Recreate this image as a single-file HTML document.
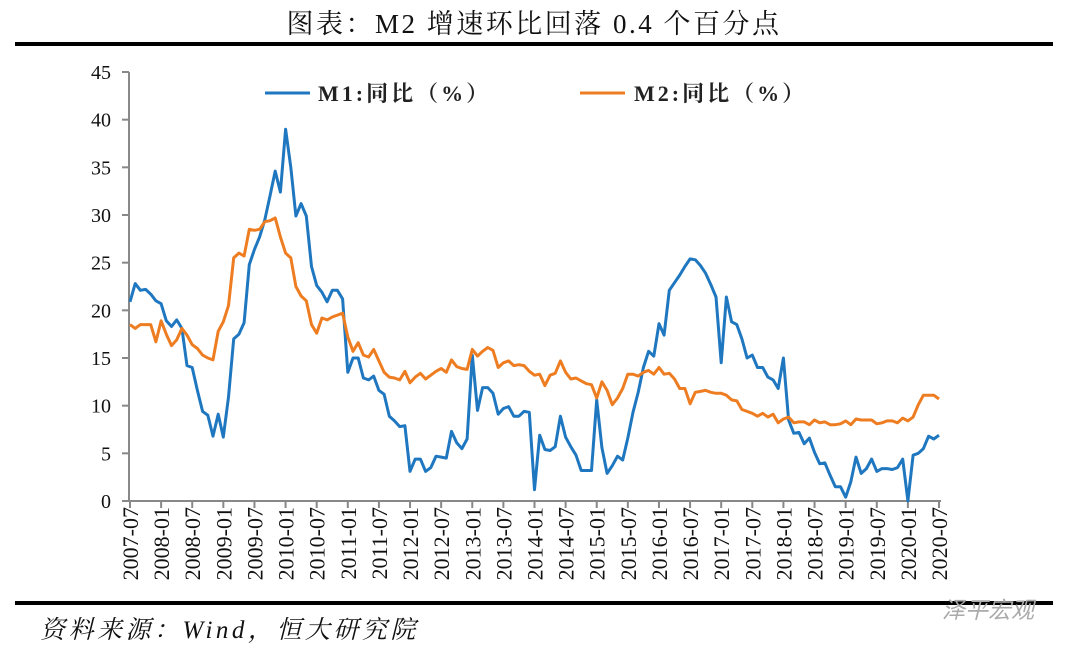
<!DOCTYPE html>
<html><head><meta charset="utf-8"><style>
body{margin:0;background:#fff;width:1080px;height:658px;overflow:hidden;font-family:"Liberation Serif","Noto Serif CJK SC",serif;}
</style></head><body>
<svg width="1080" height="658" xmlns="http://www.w3.org/2000/svg">
<text x="534" y="33" text-anchor="middle" font-size="27" letter-spacing="2.5" fill="#111" font-family="Liberation Serif, Noto Serif CJK SC, serif">图表：M2 增速环比回落 0.4 个百分点</text>
<rect x="15" y="42" width="1038" height="4" fill="#000"/>
<rect x="15" y="601" width="1038" height="4" fill="#000"/>
<text x="40" y="638" font-size="25" font-style="italic" letter-spacing="3.5" fill="#111" font-family="Liberation Serif, Noto Serif CJK SC, serif">资料来源：Wind，恒大研究院</text>
<text x="942" y="618" font-size="23" font-style="italic" fill="#aaa" font-family="Liberation Sans, Noto Sans CJK SC, sans-serif">泽平宏观</text>
<g id="axes"></g>
<g id="series"></g>
<g>
<line x1="265" y1="93" x2="310" y2="93" stroke="#1f77c0" stroke-width="3"/>
<text x="318" y="101" font-size="22" font-weight="bold" letter-spacing="3" fill="#222">M1:同比（%）</text>
<line x1="580" y1="93" x2="625" y2="93" stroke="#ee7d22" stroke-width="3"/>
<text x="634" y="101" font-size="22" font-weight="bold" letter-spacing="3" fill="#222">M2:同比（%）</text>
</g>
</svg>
<script>
const yTicks=[0,5,10,15,20,25,30,35,40,45];
const startYear=2007, startMonth=7;
const m1=[20.9,22.8,22.1,22.2,21.7,21.0,
20.7,18.9,18.3,19.0,18.1,14.2,14.0,11.6,9.4,9.0,6.8,9.1,
6.7,10.9,17.0,17.5,18.7,24.8,26.4,27.7,29.5,32.0,34.6,32.4,
39.0,35.0,29.9,31.2,29.9,24.6,22.6,21.9,20.9,22.1,22.1,21.2,
13.5,15.0,15.0,12.9,12.7,13.1,11.6,11.2,8.9,8.4,7.8,7.9,
3.1,4.4,4.4,3.1,3.5,4.7,4.6,4.5,7.3,6.1,5.5,6.5,
15.3,9.5,11.9,11.9,11.3,9.1,9.7,9.9,8.9,8.9,9.4,9.3,
1.2,6.9,5.4,5.3,5.7,8.9,6.7,5.7,4.8,3.2,3.2,3.2,
10.6,5.6,2.9,3.7,4.7,4.3,6.6,9.3,11.4,14.0,15.7,15.2,
18.6,17.4,22.1,22.9,23.7,24.6,25.4,25.3,24.7,23.9,22.7,21.4,
14.5,21.4,18.8,18.5,17.0,15.0,15.3,14.0,14.0,13.0,12.7,11.8,
15.0,8.5,7.1,7.2,6.0,6.6,5.1,3.9,4.0,2.7,1.5,1.5,
0.4,2.0,4.6,2.9,3.4,4.4,3.1,3.4,3.4,3.3,3.5,4.4,
0.0,4.8,5.0,5.5,6.8,6.5,6.9];
const m2=[18.5,18.1,18.5,18.5,18.5,16.7,
18.9,17.5,16.3,16.9,18.1,17.4,16.4,16.0,15.3,15.0,14.8,17.8,
18.8,20.5,25.5,26.0,25.7,28.5,28.4,28.5,29.3,29.4,29.7,27.7,
26.0,25.5,22.5,21.5,21.0,18.5,17.6,19.2,19.0,19.3,19.5,19.7,
17.2,15.7,16.6,15.3,15.1,15.9,14.7,13.5,13.0,12.9,12.7,13.6,
12.4,13.0,13.4,12.8,13.2,13.6,13.9,13.5,14.8,14.1,13.9,13.8,
15.9,15.2,15.7,16.1,15.8,14.0,14.5,14.7,14.2,14.3,14.2,13.6,
13.2,13.3,12.1,13.2,13.4,14.7,13.5,12.8,12.9,12.6,12.3,12.2,
10.8,12.5,11.6,10.1,10.8,11.8,13.3,13.3,13.1,13.5,13.7,13.3,
14.0,13.3,13.4,12.8,11.8,11.8,10.2,11.4,11.5,11.6,11.4,11.3,
11.3,11.1,10.6,10.5,9.6,9.4,9.2,8.9,9.2,8.8,9.1,8.2,
8.6,8.8,8.2,8.3,8.3,8.0,8.5,8.2,8.3,8.0,8.0,8.1,
8.4,8.0,8.6,8.5,8.5,8.5,8.1,8.2,8.4,8.4,8.2,8.7,
8.4,8.8,10.1,11.1,11.1,11.1,10.7];
const NS='http://www.w3.org/2000/svg';
const X0=130, X1=939, Y0=501, Y1=72, YMAX=45;
const n=m1.length;
const xs=i=>X0+(X1-X0)*i/(n-1);
const ys=v=>Y0-(Y0-Y1)*v/YMAX;
const axes=document.getElementById('axes');
function mk(tag,attrs,parent){const e=document.createElementNS(NS,tag);for(const k in attrs)e.setAttribute(k,attrs[k]);parent.appendChild(e);return e;}
let ya=mk('line',{x1:129,y1:Y1,x2:129,y2:Y0,stroke:'#888','stroke-width':2},axes);


let xa=mk('line',{x1:128,y1:Y0,x2:X1+2,y2:Y0,stroke:'#888','stroke-width':2},axes);


yTicks.forEach(v=>{
 const y=ys(v);
 let t=mk('line',{x1:122,y1:y,x2:129,y2:y,stroke:'#888','stroke-width':2},axes);
 
 
 let l=mk('text',{x:111,y:y+7,'text-anchor':'end','font-size':20,fill:'#111'},axes);
 l.textContent=v;
 
 
});
for(let i=0;i<n;i+=6){
 const x=xs(i);
 const mo=startMonth-1+i, yr=startYear+Math.floor(mo/12), m=mo%12+1;
 let t=mk('line',{x1:x,y1:Y0,x2:x,y2:Y0+7,stroke:'#888','stroke-width':2},axes);
 
 
 let l=mk('text',{x:0,y:0,'text-anchor':'end','font-size':22,fill:'#111',transform:`translate(${x+8},${Y0+6}) rotate(-90)`},axes);
 l.textContent=yr+'-'+String(m).padStart(2,'0');
 
 
}
const series=document.getElementById('series');
function line(data,color,name){
 const d=data.map((v,i)=>(i?'L':'M')+xs(i).toFixed(1)+' '+ys(v).toFixed(1)).join(' ');
 let p=mk('path',{d:d,fill:'none',stroke:color,'stroke-width':3,'stroke-linejoin':'round'},series);
 
 
}
line(m1,'#1f77c0','m1-line');
line(m2,'#ee7d22','m2-line');
</script>
</body></html>
